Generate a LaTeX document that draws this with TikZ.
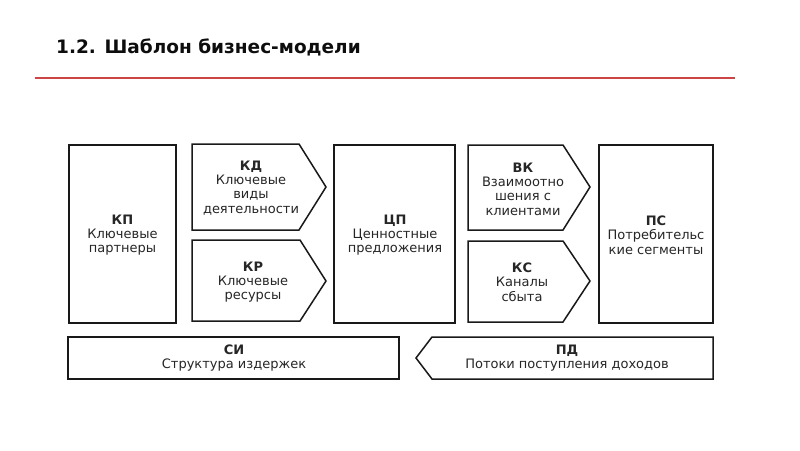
\documentclass[tikz,border=0pt]{standalone}
\usepackage{fontspec}
\setmainfont{DejaVu Sans}
\begin{document}
\begin{tikzpicture}[x=1pt,y=-1pt,
  box/.style={draw=black!90, line width=1.5pt, line join=miter},
  lbl/.style={align=center, font=\fontsize{13}{14.3}\selectfont, text=black!85, inner sep=0pt},
  ttl/.style={anchor=base west, font=\fontsize{18.5}{22}\selectfont\bfseries, text=black!95, inner sep=0pt}
  ]
\definecolor{rulered}{RGB}{204,70,70}
\useasboundingbox[fill=white] (0,0) rectangle (800,450);
% title
\node[ttl] (title) at (56,53.5) {1.2. Шаблон бизнес-модели};
\coordinate (rl) at (35,78);
\coordinate (rr) at (735,78);
\draw[rulered, line width=1.5pt] (rl) -- (rr);
% shapes
\draw[box] (69,145) rectangle (176,323);
\draw[box] (192,144) -- (299,144) -- (326,187) -- (299,230) -- (192,230) -- cycle;
\draw[box] (192,240) -- (300,240) -- (326,281) -- (300,321) -- (192,321) -- cycle;
\draw[box] (334,145) rectangle (455,323);
\draw[box] (468,145) -- (563,145) -- (590,187) -- (563,230) -- (468,230) -- cycle;
\draw[box] (468,241) -- (563,241) -- (590,281) -- (563,322) -- (468,322) -- cycle;
\draw[box] (599,145) rectangle (713,323);
\draw[box] (68,337) rectangle (399,379);
\draw[box] (432,337) -- (713,337) -- (713,379) -- (432,379) -- (416,358) -- cycle;
% texts
\node[lbl] (kp) at (122.5,235) {\textbf{КП}\\Ключевые\\партнеры};
\node[lbl] (kd) at (251,188) {\textbf{КД}\\Ключевые\\виды\\деятельности};
\node[lbl] (kr) at (253,282) {\textbf{КР}\\Ключевые\\ресурсы};
\node[lbl] (cp) at (395,235) {\textbf{ЦП}\\Ценностные\\предложения};
\node[lbl] (vk) at (523,189) {\textbf{ВК}\\Взаимоотно\\шения с\\клиентами};
\node[lbl] (ks) at (522,282) {\textbf{КС}\\Каналы\\сбыта};
\node[lbl] (ps) at (656,235) {\textbf{ПС}\\Потребительс\\кие сегменты};
\node[lbl] (si) at (234,358) {\textbf{СИ}\\Структура издержек};
\node[lbl] (pd) at (567,358) {\textbf{ПД}\\Потоки поступления доходов};
\end{tikzpicture}
\end{document}
